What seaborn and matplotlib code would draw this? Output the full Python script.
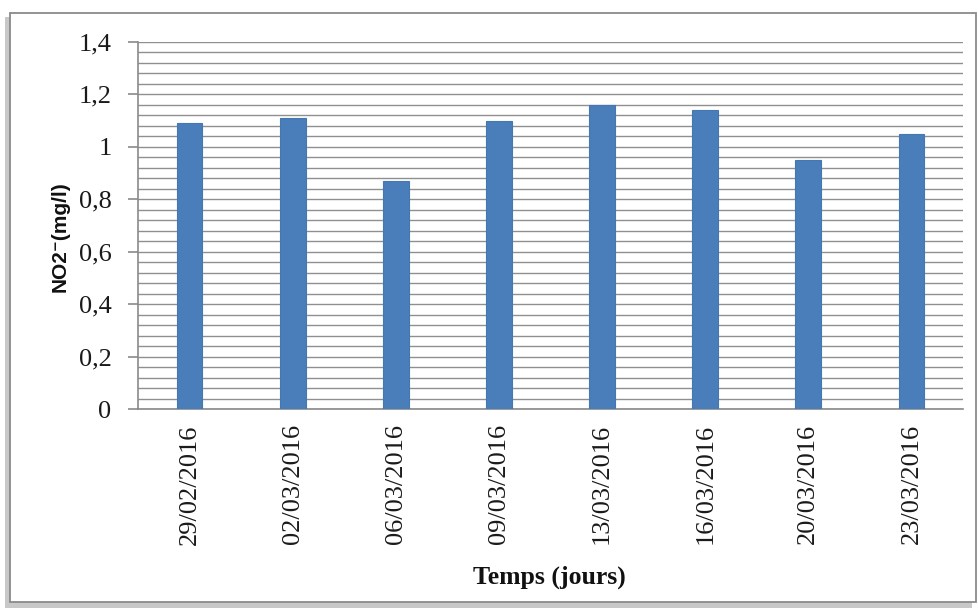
import matplotlib
matplotlib.use("Agg")
import matplotlib.pyplot as plt
from matplotlib.patches import Rectangle
from matplotlib.ticker import MultipleLocator, FuncFormatter
import seaborn as sns
import pandas as pd

# NO2- concentration per sampling date
dates = ["29/02/2016", "02/03/2016", "06/03/2016", "09/03/2016",
         "13/03/2016", "16/03/2016", "20/03/2016", "23/03/2016"]
no2_values = [1.09, 1.11, 0.87, 1.10, 1.16, 1.14, 0.95, 1.05]

df = pd.DataFrame({"date": dates, "no2": no2_values})

sns.set_theme(style="white")
plt.rcParams["font.family"] = ["Liberation Serif", "DejaVu Serif"]

W, H = 979, 612
fig = plt.figure(figsize=(W / 100, H / 100), dpi=100)
fig.patch.set_facecolor("white")

# chart frame with a soft shadow on the left and bottom
def px(x0, y0, x1, y1):
    return (x0 / W, 1 - y1 / H), (x1 - x0) / W, (y1 - y0) / H

xy, w, h = px(5, 17, 972, 608)
fig.patches.append(Rectangle(xy, w, h, transform=fig.transFigure,
                             facecolor="#c8c8c8", edgecolor="none", zorder=-2))
xy, w, h = px(10, 13, 976, 602)
fig.patches.append(Rectangle(xy, w, h, transform=fig.transFigure,
                             facecolor="white", edgecolor="#8a8a8a",
                             linewidth=1.3, zorder=-1))

ax = fig.add_axes([138 / W, 1 - 409 / H, (963 - 138) / W, (409 - 42) / H])
ax.set_zorder(2)
ax.set_facecolor("none")

sns.barplot(data=df, x="date", y="no2", ax=ax, color="#4A7EBB",
            saturation=1, width=0.25, edgecolor="#4577B3", linewidth=0.8,
            zorder=3)

ax.set_ylim(0, 1.4)
ax.set_xlim(-0.5, len(dates) - 0.5)
ax.yaxis.set_major_locator(MultipleLocator(0.2))
ax.yaxis.set_minor_locator(MultipleLocator(0.04))
ax.yaxis.set_major_formatter(
    FuncFormatter(lambda v, _: f"{v:.1f}".replace(".", ",")
                  if abs(v - round(v)) > 1e-9 else f"{int(round(v))}"))
ax.grid(axis="y", which="both", color="#8f8f8f", linewidth=1.0, zorder=0)
ax.grid(axis="x", visible=False)
ax.set_axisbelow(True)

for side in ["top", "right"]:
    ax.spines[side].set_visible(False)
ax.spines["left"].set_color("#8a8a8a")
ax.spines["bottom"].set_color("#8a8a8a")
ax.spines["left"].set_linewidth(1.2)
ax.spines["bottom"].set_linewidth(1.2)

ax.tick_params(axis="y", which="major", direction="out", length=7,
               color="#8a8a8a", width=1.2, pad=12, labelsize=19,
               labelcolor="#1a1a1a", left=True)
ax.tick_params(axis="y", which="minor", length=0)
ax.tick_params(axis="x", length=0, pad=11, labelsize=19,
               labelcolor="#1a1a1a", bottom=False)
plt.setp(ax.get_xticklabels(), rotation=90)

ax.set_xlabel("")
ax.set_ylabel("")
fig.text(60 / W, 1 - 237 / H, "NO2\u207b(mg/l)", rotation=90,
         ha="center", va="center", fontsize=15, fontweight="bold",
         family=["Liberation Sans", "DejaVu Sans"], color="#111111")
fig.text(549 / W, 1 - 577 / H, "Temps (jours)", ha="center", va="center",
         fontsize=18.5, fontweight="bold", color="#111111")

fig.savefig("out.png", dpi=100, facecolor="white")
